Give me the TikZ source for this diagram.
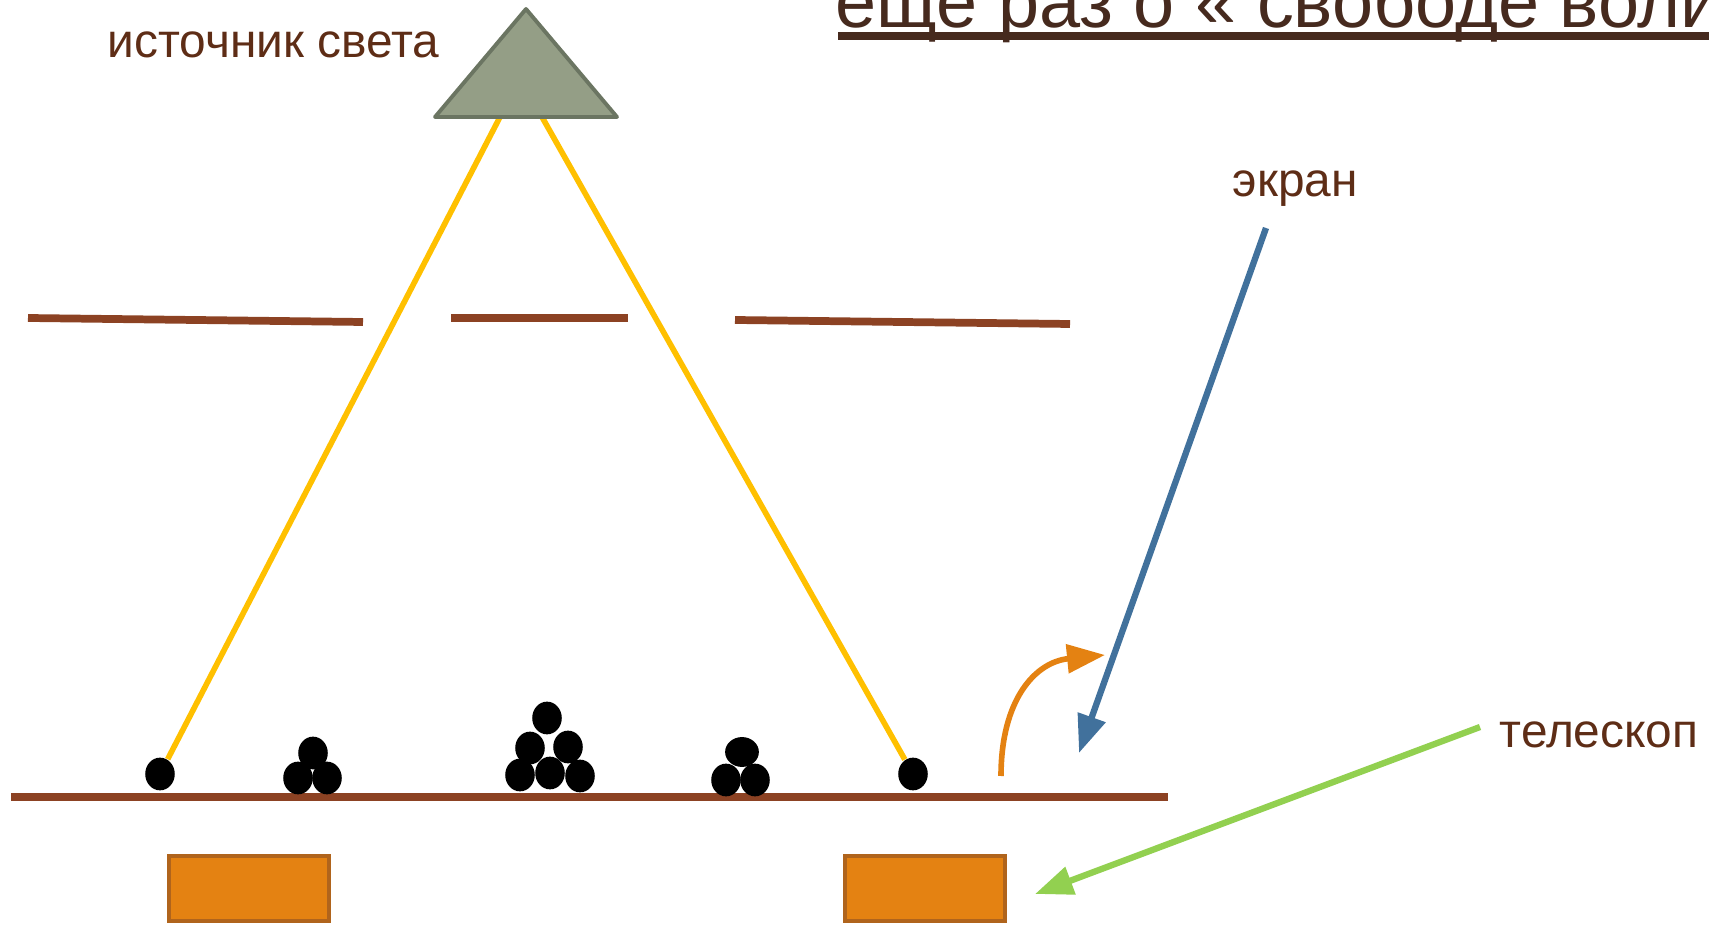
\documentclass[tikz,border=0pt]{standalone}
\usepackage{fontspec}
\setmainfont{Liberation Sans}
\usetikzlibrary{shapes.geometric,arrows.meta}
\definecolor{txtbrown}{RGB}{94,45,22}
\definecolor{titlebrown}{RGB}{70,42,30}
\definecolor{barbrown}{RGB}{140,66,35}
\definecolor{raygold}{RGB}{255,192,0}
\definecolor{srcfill}{RGB}{148,158,134}
\definecolor{srcline}{RGB}{107,117,98}
\definecolor{scopefill}{RGB}{228,130,18}
\definecolor{scopeline}{RGB}{176,100,28}
\definecolor{screenblue}{RGB}{65,113,156}
\definecolor{telegreen}{RGB}{146,208,80}

\begin{document}
\begin{tikzpicture}[x=0.01cm,y=-0.01cm,
  lbl/.style={anchor=base west,inner sep=0,text=txtbrown,font=\fontsize{13.6}{16}\selectfont},
  bar/.style={barbrown,line width=2.2pt},
  ray/.style={raygold,line width=1.6pt},
  dot/.style={ellipse,fill=black,inner sep=0,minimum width=8.4pt,minimum height=9.3pt},
  scopebox/.style={fill=scopefill,draw=scopeline,line width=0.9pt},
  pointer/.style={line width=1.8pt,-{Triangle[length=10.8pt,width=8pt]}}]
\useasboundingbox (0,0) rectangle (1709,925);

% title
\node [anchor=base west,inner sep=0,text=titlebrown,font=\fontsize{21}{25}\selectfont]
  (title) at (835,28) {еще раз о « свободе воли};
\draw [titlebrown,line width=2pt] (838,36)--(1720,36);

% rays from the source
\coordinate (rayL) at (500,117);
\coordinate (rayR) at (542,117);
\node [dot] (d1) at (160,774) {};
\node [dot] (d5) at (913,774) {};
\draw [ray] (rayL)--(d1);
\draw [ray] (rayR)--(d5);

% source
\draw [fill=srcfill,draw=srcline,line width=1.1pt,line join=round]
  (526,9)--(435,117)--(617,117)--cycle;
\node [lbl] (source) at (107,58) {источник света};

% screens
\draw [bar] (28,318)--(363,322);
\draw [bar] (451,318)--(628,318);
\draw [bar] (735,320)--(1070,324);
\draw [bar] (11,797)--(1168,797);

% hits
\node [dot] (c2a) at (313,753) {};
\node [dot] (c2b) at (298,778) {};
\node [dot] (c2c) at (327,778) {};

\node [dot] (c3a) at (547,718) {};
\node [dot] (c3b) at (530,748) {};
\node [dot] (c3c) at (568,747) {};
\node [dot] (c3d) at (520,775) {};
\node [dot] (c3e) at (550,773) {};
\node [dot] (c3f) at (580,776) {};

\node [dot,minimum width=9.6pt,minimum height=8.5pt] (c4a) at (742,752) {};
\node [dot] (c4b) at (726,780) {};
\node [dot] (c4c) at (755,780) {};

% telescopes
\draw [scopebox] (169,856) rectangle (329,921);
\draw [scopebox] (845,856) rectangle (1005,921);

% labels and pointers
\node [lbl] (ekran) at (1232,197) {экран};
\node [lbl] (teleskop) at (1499,748) {телескоп};

\coordinate (screenStart) at (1266,228);
\coordinate (screenTip) at (1079,753);
\draw [pointer,screenblue] (screenStart)--(screenTip);

\coordinate (teleStart) at (1480,727);
\coordinate (teleTip) at (1035,894);
\draw [pointer,telegreen] (teleStart)--(teleTip);

\draw [pointer,scopefill,line width=1.6pt] (1001,776) .. controls (1001,700) and (1035,662) .. (1105,655);
\end{tikzpicture}
\end{document}
